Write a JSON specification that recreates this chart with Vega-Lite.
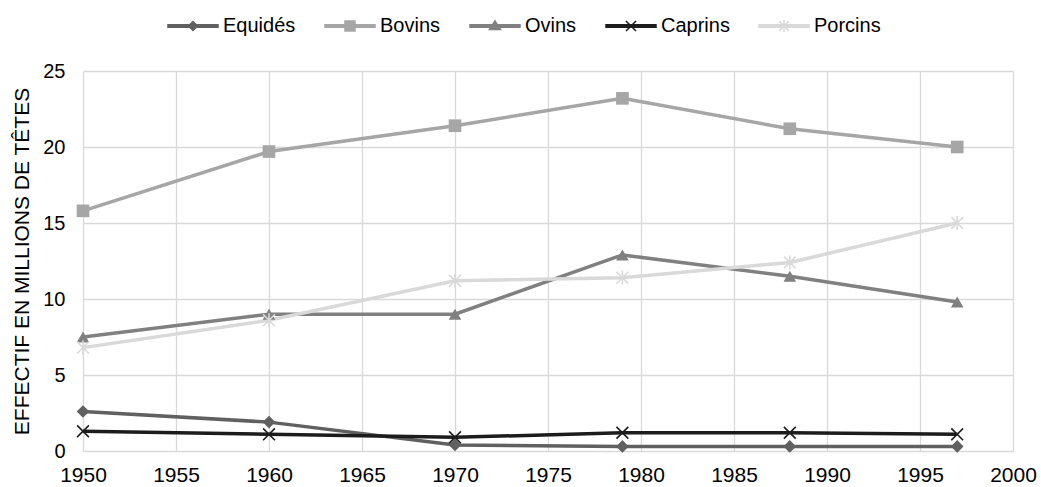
{
  "$schema": "https://vega.github.io/schema/vega-lite/v6.json",
  "width": 930,
  "height": 380,
  "autosize": "none",
  "padding": {"left": 83, "top": 71, "right": 28, "bottom": 36},
  "background": "white",
  "config": {
    "font": "Liberation Sans",
    "view": {"stroke": null},
    "axis": {"labelFont": "Liberation Sans", "titleFont": "Liberation Sans", "labelColor": "#000000", "titleColor": "#000000"}
  },
  "resolve": {"legend": {"stroke": "independent", "color": "independent", "shape": "independent"}},
  "data": {
    "values": [
      {"series": "Equidés", "year": 1950, "value": 2.6},
      {"series": "Equidés", "year": 1960, "value": 1.9},
      {"series": "Equidés", "year": 1970, "value": 0.4},
      {"series": "Equidés", "year": 1979, "value": 0.3},
      {"series": "Equidés", "year": 1988, "value": 0.3},
      {"series": "Equidés", "year": 1997, "value": 0.3},
      {"series": "Bovins", "year": 1950, "value": 15.8},
      {"series": "Bovins", "year": 1960, "value": 19.7},
      {"series": "Bovins", "year": 1970, "value": 21.4},
      {"series": "Bovins", "year": 1979, "value": 23.2},
      {"series": "Bovins", "year": 1988, "value": 21.2},
      {"series": "Bovins", "year": 1997, "value": 20.0},
      {"series": "Ovins", "year": 1950, "value": 7.5},
      {"series": "Ovins", "year": 1960, "value": 9.0},
      {"series": "Ovins", "year": 1970, "value": 9.0},
      {"series": "Ovins", "year": 1979, "value": 12.9},
      {"series": "Ovins", "year": 1988, "value": 11.5},
      {"series": "Ovins", "year": 1997, "value": 9.8},
      {"series": "Caprins", "year": 1950, "value": 1.3},
      {"series": "Caprins", "year": 1960, "value": 1.1},
      {"series": "Caprins", "year": 1970, "value": 0.9},
      {"series": "Caprins", "year": 1979, "value": 1.2},
      {"series": "Caprins", "year": 1988, "value": 1.2},
      {"series": "Caprins", "year": 1997, "value": 1.1},
      {"series": "Porcins", "year": 1950, "value": 6.8},
      {"series": "Porcins", "year": 1960, "value": 8.6},
      {"series": "Porcins", "year": 1970, "value": 11.2},
      {"series": "Porcins", "year": 1979, "value": 11.4},
      {"series": "Porcins", "year": 1988, "value": 12.4},
      {"series": "Porcins", "year": 1997, "value": 15.0}
    ]
  },
  "encoding": {
    "x": {
      "field": "year", "type": "quantitative",
      "scale": {"domain": [1950, 2000], "nice": false, "zero": false},
      "axis": {
        "values": [1950, 1955, 1960, 1965, 1970, 1975, 1980, 1985, 1990, 1995, 2000],
        "format": "d", "title": null, "grid": true, "gridColor": "#d9d9d9", "gridWidth": 1.3,
        "domain": false, "ticks": false, "labelFontSize": 21, "labelPadding": 24, "labelBaseline": "middle", "labelFlush": false
      }
    },
    "y": {
      "field": "value", "type": "quantitative",
      "scale": {"domain": [0, 25], "nice": false},
      "axis": {
        "values": [0, 5, 10, 15, 20, 25],
        "title": "EFFECTIF EN MILLIONS DE TÊTES", "titleFontSize": 21, "titleFontWeight": "normal",
        "titleX": -61, "titleAngle": -90, "titleBaseline": "middle", "titleAlign": "center",
        "grid": true, "gridColor": "#d9d9d9", "gridWidth": 1.3,
        "domain": false, "ticks": false, "labelFontSize": 20, "labelPadding": 18, "labelFlush": false
      }
    }
  },
  "layer": [
    {
      "mark": {"type": "line", "strokeWidth": 3.5},
      "encoding": {
        "stroke": {
          "field": "series", "type": "nominal",
          "scale": {
            "domain": ["Equidés", "Bovins", "Ovins", "Caprins", "Porcins"],
            "range": ["#606060", "#a6a6a6", "#808080", "#1c1c1c", "#d9d9d9"]
          },
          "legend": {
            "orient": "none", "direction": "horizontal", "legendX": 100, "legendY": -55,
            "title": null, "labelFontSize": 20, "labelFont": "Liberation Sans", "labelColor": "#000000",
            "symbolSize": 100, "labelOffset": 20, "columnPadding": 26,
            "encode": {
              "symbols": {
                "update": {
                  "shape": {"signal": "datum.value === 'Equidés' ? 'M-5,-0.25L5,-0.25L5,0.25L-5,0.25Z M0,-0.9L0.9,0L0,0.9L-0.9,0Z' : datum.value === 'Bovins' ? 'M-5,-0.25L5,-0.25L5,0.25L-5,0.25Z M-1,-1L1,-1L1,1L-1,1Z' : datum.value === 'Ovins' ? 'M-5,-0.25L5,-0.25L5,0.25L-5,0.25Z M0,-1L1.1,0.7L-1.1,0.7Z' : datum.value === 'Caprins' ? 'M-5,-0.25L5,-0.25L5,0.25L-5,0.25Z M-1,-1L1,1M1,-1L-1,1' : 'M-5,-0.25L5,-0.25L5,0.25L-5,0.25Z M-1,-1L1,1M1,-1L-1,1M0,-1.2L0,1.2'"},
                  "fill": {"signal": "scale('stroke', datum.value)"},
                  "stroke": {"signal": "scale('stroke', datum.value)"},
                  "strokeWidth": {"value": 1.5},
                  "opacity": {"value": 1},
                  "fillOpacity": {"value": 1},
                  "strokeOpacity": {"value": 1}
                }
              }
            }
          }
        }
      }
    },
    {
      "transform": [{"filter": "datum.series === 'Equidés' || datum.series === 'Bovins' || datum.series === 'Ovins'"}],
      "mark": {"type": "point", "filled": true, "size": 160, "opacity": 1},
      "encoding": {
        "color": {
          "field": "series", "type": "nominal", "legend": null,
          "scale": {
            "domain": ["Equidés", "Bovins", "Ovins", "Caprins", "Porcins"],
            "range": ["#606060", "#a6a6a6", "#808080", "#1c1c1c", "#d9d9d9"]
          }
        },
        "shape": {
          "field": "series", "type": "nominal", "legend": null,
          "scale": {
            "domain": ["Equidés", "Bovins", "Ovins", "Caprins", "Porcins"],
            "range": ["diamond", "square", "triangle-up", "M-1,-1L1,1M1,-1L-1,1", "M-1,-1L1,1M1,-1L-1,1M0,-1.2L0,1.2"]
          }
        }
      }
    },
    {
      "transform": [{"filter": "datum.series === 'Caprins' || datum.series === 'Porcins'"}],
      "mark": {"type": "point", "filled": false, "size": 140, "strokeWidth": 1.6, "opacity": 1},
      "encoding": {
        "color": {
          "field": "series", "type": "nominal", "legend": null,
          "scale": {
            "domain": ["Equidés", "Bovins", "Ovins", "Caprins", "Porcins"],
            "range": ["#606060", "#a6a6a6", "#808080", "#1c1c1c", "#d9d9d9"]
          }
        },
        "shape": {
          "field": "series", "type": "nominal", "legend": null,
          "scale": {
            "domain": ["Equidés", "Bovins", "Ovins", "Caprins", "Porcins"],
            "range": ["diamond", "square", "triangle-up", "M-1,-1L1,1M1,-1L-1,1", "M-1,-1L1,1M1,-1L-1,1M0,-1.2L0,1.2"]
          }
        }
      }
    }
  ]
}
